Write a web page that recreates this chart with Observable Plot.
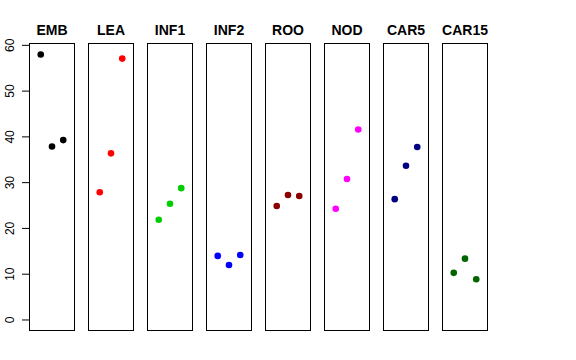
<!DOCTYPE html>
<html>
<head>
<meta charset="utf-8">
<script src="https://cdn.jsdelivr.net/npm/d3@7"></script>
<script src="https://cdn.jsdelivr.net/npm/@observablehq/plot@0.6"></script>
<style>
  html, body { margin: 0; padding: 0; background: white; }
</style>
</head>
<body>
<div id="chart"></div>
<script>
const groups = ["EMB", "LEA", "INF1", "INF2", "ROO", "NOD", "CAR5", "CAR15"];
const colors = ["black", "red", "#00CD00", "blue", "#8B0000", "magenta", "#000080", "#006400"];
const embValues = [58.0, 37.9, 39.3];
const leaValues = [27.9, 36.4, 57.1];
const inf1Values = [21.9, 25.4, 28.8];
const inf2Values = [14.0, 12.0, 14.2];
const rooValues = [24.9, 27.3, 27.1];
const nodValues = [24.3, 30.8, 41.6];
const car5Values = [26.4, 33.7, 37.8];
const car15Values = [10.3, 13.4, 8.9];
const yTicks = [0, 10, 20, 30, 40, 50, 60];

const seriesValues = [embValues, leaValues, inf1Values, inf2Values, rooValues, nodValues, car5Values, car15Values];
const data = [];
groups.forEach((g, i) => {
  seriesValues[i].forEach((v, j) => data.push({group: g, rep: j + 1, value: v, color: colors[i]}));
});

const chart = Plot.plot({
  width: 576,
  height: 360,
  marginLeft: 29,
  marginRight: 88,
  marginTop: 43,
  marginBottom: 30,
  style: {fontFamily: "'Liberation Sans', Arial, sans-serif", background: "white", color: "black"},
  fx: {domain: groups, paddingInner: 0.237, paddingOuter: 0, axis: null},
  x: {domain: [0, 4], axis: null},
  y: {domain: [-2.3, 60.4]},
  marks: [
    Plot.frame({stroke: "black", strokeWidth: 1}),
    Plot.axisY({ticks: yTicks, tickSize: 7, tickPadding: 9, tickRotate: -90, fontSize: 12, label: null, stroke: "black", fill: "black"}),
    Plot.text(groups, {fx: d => d, text: d => d, frameAnchor: "top", lineAnchor: "middle", dy: -13, fontWeight: "bold", fontSize: 14, fill: "black"}),
    Plot.dot(data, {fx: "group", x: "rep", y: "value", r: 3.3, fill: "color", stroke: null})
  ]
});
document.getElementById("chart").appendChild(chart);
</script>
</body>
</html>
